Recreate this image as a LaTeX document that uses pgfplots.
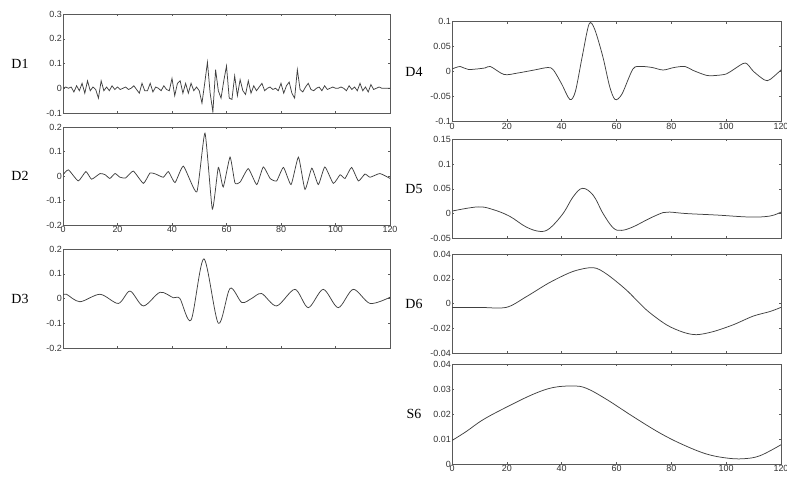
\documentclass[border=0pt]{standalone}
\usepackage{pgfplots}
\pgfplotsset{compat=1.18}
\usepackage{fontspec}
\setmainfont{Liberation Serif}
\newfontfamily\ticksf{Liberation Sans}
\definecolor{curve}{gray}{0.25}
\definecolor{frame}{gray}{0.35}
\pgfplotsset{
  panel/.style={
    scale only axis, anchor=north west,
    xmin=0, xmax=120, xtick={0,20,...,120},
    scaled y ticks=false, scaled x ticks=false,
    tick align=inside, major tick length=2bp,
    axis line style={line width=0.6pt, frame},
    every tick/.style={frame, line width=0.5pt},
    ticklabel style={font=\ticksf\fontsize{9}{10}\selectfont, text=black!80},
    yticklabel style={inner sep=1pt},
    xticklabel style={inner sep=1.5pt},
    every axis y label/.style={at={(rel axis cs:0,0.5)}, anchor=center, font=\fontsize{14}{16}\selectfont},
    xticklabels={},
  },
  withxl/.style={xticklabels={0,20,40,60,80,100,120}},
  crv/.style={line width=0.75pt, curve, mark=none},
}
\begin{document}
\begin{tikzpicture}
\useasboundingbox (0,0) rectangle (787bp,-479bp);
% ---------------- D1
\begin{axis}[panel, at={(63bp,-14bp)}, width=327bp, height=99bp,
  ymin=-0.1, ymax=0.3, ytick={-0.1,0,0.1,0.2,0.3}, yticklabels={-0.1,0,0.1,0.2,0.3},
  ylabel={D1}, ylabel style={xshift=-43bp}]
\addplot[crv] coordinates {
(0,0) (1,0.005) (2,0) (3,0.005) (4,-0.015) (5,0.01) (6,-0.01) (7,0.02) (8,-0.02) (9,0.03)
(10,-0.01) (11,0.005) (12,-0.005) (13,-0.04) (14,0.03) (15,-0.01) (16,0.005) (17,-0.01) (18,0.01) (19,-0.005)
(20,0.005) (21,-0.005) (22,0) (23,0.005) (24,-0.005) (25,0) (26,0.01) (27,-0.005) (28,-0.02) (29,0.02)
(30,-0.01) (31,-0.01) (32,0.02) (33,-0.015) (34,0.005) (35,0) (36,-0.01) (37,0.01) (38,-0.005) (39,-0.01)
(40,0.04) (41,-0.03) (42,0.02) (43,0.03) (44,-0.02) (45,0.02) (46,-0.02) (47,0.02) (48,-0.01) (49,0.005)
(50,-0.01) (51,-0.06) (52,0.02) (53,0.105) (54,-0.02) (55,-0.095) (56,0.075) (57,-0.01) (58,-0.04) (59,0.03)
(60,0.09) (61,-0.04) (62,-0.045) (63,0.05) (64,-0.03) (65,0.035) (66,-0.01) (67,-0.025) (68,0.03) (69,-0.02)
(70,0.01) (71,-0.01) (72,0.005) (73,0.02) (74,-0.01) (75,0) (76,0.005) (77,-0.005) (78,0) (79,-0.01)
(80,0.02) (81,-0.02) (82,0.01) (83,0.025) (84,-0.02) (85,-0.04) (86,0.075) (87,-0.005) (88,-0.015) (89,0.005)
(90,0.02) (91,-0.005) (92,-0.01) (93,0) (94,0.005) (95,-0.01) (96,0.01) (97,-0.005) (98,0) (99,0.005)
(100,0) (101,0) (102,0.005) (103,0) (104,-0.01) (105,0.01) (106,-0.005) (107,0.005) (108,-0.01) (109,0.02)
(110,-0.01) (111,0.005) (112,-0.015) (113,0.015) (114,-0.005) (115,0) (116,0.005) (117,0) (118,0) (119,0) (120,0)
};
\end{axis}
% ---------------- D2
\begin{axis}[panel, withxl, at={(63bp,-127bp)}, width=327bp, height=98bp,
  ymin=-0.2, ymax=0.2, ytick={-0.2,-0.1,0,0.1,0.2}, yticklabels={-0.2,-0.1,0,0.1,0.2},
  ylabel={D2}, ylabel style={xshift=-43bp}]
\addplot[crv, smooth, tension=0.3] coordinates {
(0,0.005) (2,0.025) (5.6,-0.02) (8.4,0.018) (10.5,-0.013) (13.6,0.01) (15.5,0.005) (17.2,-0.01) (19.1,0.01) (20.9,-0.005)
(23,-0.008) (25.8,0.02) (29.5,-0.03) (31.9,0.012) (34,0.008) (36.8,-0.005) (38.7,0.018) (41.1,-0.027) (44.2,0.04) (49.1,-0.065)
(52.1,0.175) (54.8,-0.135) (57,0.035) (58.8,-0.045) (61.3,0.077) (63.1,-0.028) (65,-0.025) (68,0.03) (71.1,-0.035) (73.5,0.037)
(76,-0.01) (78.4,-0.02) (80.9,0.035) (83.7,-0.035) (86.4,0.077) (88.8,-0.055) (91.3,0.032) (93.7,-0.035) (96.1,0.037) (99.2,-0.03)
(101.7,0.005) (103.5,-0.01) (105.9,0.035) (108.4,-0.02) (110.8,0.008) (112.7,-0.005) (116.3,0.01) (120,-0.01)
};
\end{axis}
% ---------------- D3
\begin{axis}[panel, at={(63bp,-249bp)}, width=327bp, height=99bp,
  ymin=-0.2, ymax=0.2, ytick={-0.2,-0.1,0,0.1,0.2}, yticklabels={-0.2,-0.1,0,0.1,0.2},
  ylabel={D3}, ylabel style={xshift=-43bp}]
\addplot[crv, smooth, tension=0.5] coordinates {
(0,0.015) (1.3,0.017) (6.2,-0.013) (13.6,0.017) (20.3,-0.02) (24.6,0.03) (29.5,-0.03) (35.6,0.025) (40.5,0.003) (42.9,0)
(47.0,-0.087) (51.7,0.16) (57.0,-0.1) (61.3,0.041) (65.6,-0.016) (69.2,0) (72.9,0.02) (78.4,-0.03) (85.1,0.037) (90.0,-0.037)
(95.5,0.037) (101.0,-0.037) (106.5,0.037) (112.7,-0.02) (120,0.005)
};
\end{axis}
% ---------------- D4
\begin{axis}[panel, withxl, at={(452bp,-21.5bp)}, width=329bp, height=100bp,
  ymin=-0.1, ymax=0.1, ytick={-0.1,-0.05,0,0.05,0.1}, yticklabels={-0.1,-0.05,0,0.05,0.1},
  ylabel={D4}, ylabel style={xshift=-38bp}]
\addplot[crv, smooth, tension=0.5] coordinates {
(0,0.005) (3,0.01) (6,0.004) (12,0.007) (14,0.01) (19,-0.006) (24,-0.003) (30,0.003) (35,0.008) (37,0.003)
(40,-0.025) (43,-0.056) (45,-0.04) (47.5,0.03) (50,0.095) (52,0.085) (55,0.03) (57.5,-0.03) (59.5,-0.056) (62,-0.045)
(66,0.005) (69,0.01) (73,0.008) (77,0.003) (81,0.008) (85,0.01) (88,0.002) (93,-0.008) (96,-0.008) (100,-0.005)
(103,0.005) (107,0.017) (110,0) (114,-0.017) (116,-0.016) (120,0.003)
};
\end{axis}
% ---------------- D5
\begin{axis}[panel, at={(452bp,-139.3bp)}, width=329bp, height=99bp,
  ymin=-0.05, ymax=0.15, ytick={-0.05,0,0.05,0.1,0.15}, yticklabels={-0.05,0,0.05,0.1,0.15},
  ylabel={D5}, ylabel style={xshift=-38bp}]
\addplot[crv, smooth, tension=0.6] coordinates {
(0,0.005) (9.5,0.0135) (15,0.008) (21,-0.0054) (27,-0.027) (32,-0.036) (35.6,-0.03) (40.5,0) (44.2,0.034) (47.6,0.051)
(51.5,0.037) (55.1,0) (58.8,-0.029) (61.8,-0.034) (66,-0.027) (72,-0.01) (77,0.002) (79.4,0.003) (85.5,0) (96.5,-0.003)
(108.6,-0.007) (116,-0.005) (120,0.003)
};
\end{axis}
% ---------------- D6
\begin{axis}[panel, at={(452bp,-254bp)}, width=329bp, height=99.3bp,
  ymin=-0.04, ymax=0.04, ytick={-0.04,-0.02,0,0.02,0.04}, yticklabels={-0.04,-0.02,0,0.02,0.04},
  ylabel={D6}, ylabel style={xshift=-38bp}]
\addplot[crv, smooth, tension=0.5] coordinates {
(0,-0.003) (10,-0.003) (19.8,-0.003) (27.1,0.0056) (35.6,0.017) (44.2,0.026) (51.5,0.029) (56.3,0.024) (63.6,0.011) (70.9,-0.005)
(78.2,-0.017) (84.3,-0.023) (89.2,-0.025) (95.3,-0.0225) (102.6,-0.017) (109.9,-0.01) (115.9,-0.0064) (120,-0.003)
};
\end{axis}
% ---------------- S6
\begin{axis}[panel, withxl, at={(452bp,-364bp)}, width=329bp, height=100bp,
  ymin=0, ymax=0.04, ytick={0,0.01,0.02,0.03,0.04}, yticklabels={0,0.01,0.02,0.03,0.04},
  ylabel={S6}, ylabel style={xshift=-38bp}]
\addplot[crv, smooth, tension=0.6] coordinates {
(0,0.0094) (5.2,0.013) (11.3,0.0177) (19.8,0.0227) (29.6,0.0279) (36.9,0.0306) (44.2,0.0312) (49,0.0303) (56.3,0.0259) (66,0.019)
(75.8,0.0124) (84.3,0.0077) (92.8,0.004) (100.1,0.0024) (106.2,0.0021) (112.3,0.0033) (120,0.0077)
};
\end{axis}
\end{tikzpicture}
\end{document}
